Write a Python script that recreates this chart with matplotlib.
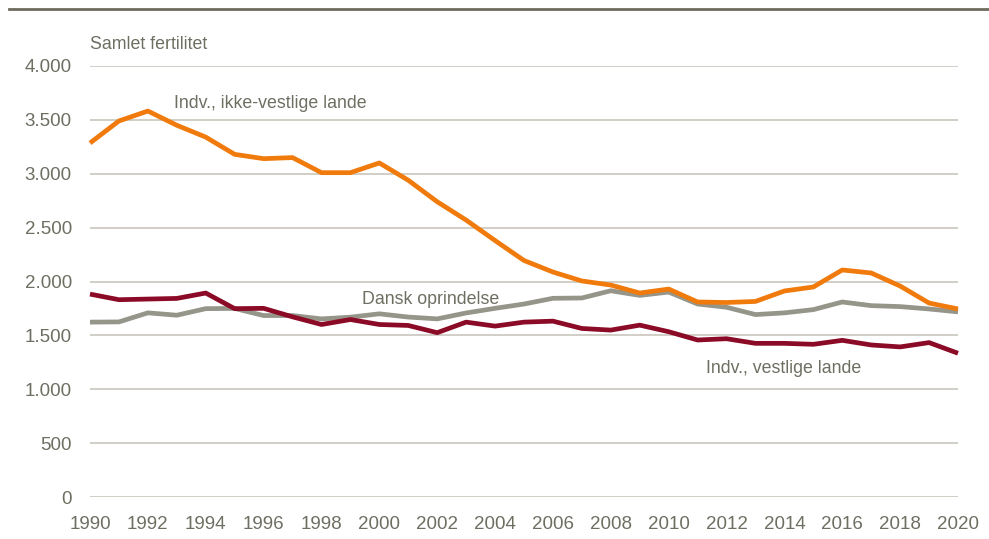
import numpy as np
import matplotlib.pyplot as plt
from matplotlib.lines import Line2D
from matplotlib import font_manager

# data
years = list(range(1990, 2021))
ikke_vestlige = [3285, 3490, 3582, 3450, 3340, 3180, 3140, 3150, 3010, 3010,
                 3100, 2940, 2740, 2570, 2380, 2195, 2088, 2005, 1967, 1893,
                 1930, 1810, 1805, 1815, 1912, 1949, 2107, 2079, 1958, 1800,
                 1745]
dansk = [1623, 1625, 1709, 1687, 1748, 1750, 1684, 1684, 1653, 1669,
         1700, 1670, 1653, 1708, 1751, 1791, 1844, 1847, 1914, 1871,
         1902, 1791, 1761, 1693, 1709, 1739, 1810, 1776, 1767, 1745,
         1718]
vestlige = [1883, 1831, 1837, 1843, 1893, 1748, 1751, 1672, 1601, 1647,
            1601, 1592, 1525, 1623, 1586, 1623, 1632, 1564, 1549, 1595,
            1534, 1457, 1469, 1426, 1426, 1417, 1454, 1411, 1393, 1433,
            1334]
yticks = [0, 500, 1000, 1500, 2000, 2500, 3000, 3500, 4000]
ylabels = ["0", "500", "1.000", "1.500", "2.000", "2.500", "3.000", "3.500", "4.000"]
xticks = list(range(1990, 2021, 2))

names = [f.name for f in font_manager.fontManager.ttflist]
if "Liberation Sans Narrow" in names:
    plt.rcParams['font.family'] = ['Liberation Sans Narrow', 'DejaVu Sans']
    tick_fs, lab_fs = 15, 14
else:
    plt.rcParams['font.family'] = ['Liberation Sans', 'DejaVu Sans']
    tick_fs, lab_fs = 13.5, 12.8

txt = "#6E6E62"
fig = plt.figure(figsize=(9.89, 5.39), dpi=100)
ax = fig.add_axes([90/989, 1-497/539, (958-90)/989, (497-66)/539])

ax.plot(years, dansk, color="#95958A", lw=3.4, clip_on=False, solid_capstyle='butt')
ax.plot(years, vestlige, color="#8B0A26", lw=3.4, clip_on=False, solid_capstyle='butt')
ax.plot(years, ikke_vestlige, color="#F07A0C", lw=3.4, clip_on=False, solid_capstyle='butt')

ax.set_xlim(1990, 2020)
ax.set_ylim(0, 4000)
ax.set_yticks(yticks)
ax.set_yticklabels(ylabels)
ax.set_xticks(xticks)
ax.grid(axis='y', color="#C8C6BE", lw=1.2)
ax.set_axisbelow(True)
for s in ax.spines.values():
    s.set_visible(False)
ax.tick_params(length=0, labelsize=tick_fs, colors=txt)
ax.tick_params(axis='y', pad=13)
ax.tick_params(axis='x', pad=14)

ax.text(1990, 4120, "Samlet fertilitet", fontsize=lab_fs, color=txt, ha='left', va='bottom')
ax.text(1992.9, 3650, "Indv., ikke-vestlige lande", fontsize=lab_fs, color=txt, ha='left', va='center')
ax.text(1999.4, 1830, "Dansk oprindelse", fontsize=lab_fs, color=txt, ha='left', va='center')
ax.text(2011.3, 1190, "Indv., vestlige lande", fontsize=lab_fs, color=txt, ha='left', va='center')

fig.add_artist(Line2D([9/989, 1], [1-9/539, 1-9/539], color="#6E6B5E", lw=2))

fig.savefig("out.png", dpi=100)
